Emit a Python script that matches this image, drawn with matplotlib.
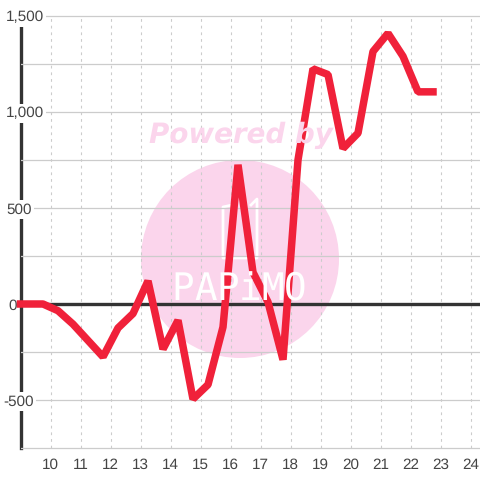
import matplotlib
matplotlib.use('Agg')
import matplotlib.pyplot as plt
from matplotlib.lines import Line2D
from matplotlib.patches import Circle
from matplotlib.transforms import ScaledTranslation

plt.rcParams['font.family'] = ['Liberation Sans', 'DejaVu Sans']
plt.rcParams['text.hinting'] = 'none'

# Values
hours = [9.0, 9.25, 9.75, 10.25, 10.75, 11.25, 11.75, 12.25, 12.75, 13.25, 13.75, 14.25, 14.75,
         15.25, 15.75, 16.25, 16.75, 17.25, 17.75, 18.25, 18.75, 19.25, 19.75, 20.25, 20.75,
         21.25, 21.75, 22.25, 22.75]
values = [0, 0, 0, -35, -105, -190, -275, -125, -50, 120, -235, -85, -495,
          -420, -120, 725, 165, 10, -290, 750, 1225, 1195, 810, 890, 1315,
          1410, 1290, 1105, 1105]
x_ticks = list(range(10, 25))
y_major = [-500, 0, 500, 1000, 1500]
y_labels = ['-500', '0', '500', '1,000', '1,500']
y_minor = [-750, -250, 250, 750, 1250]
label_shift_px = [-3, 2, 0, 0, 0]

RED = '#f0213a'
DARK = '#333333'
GRID = '#cccccc'
PINK = '#fbd5ec'


def px(x, y):
    return x / 480, 1 - y / 480


fig = plt.figure(figsize=(4.8, 4.8), dpi=100, facecolor='white')

# Watermark sits behind the chart
fig.add_artist(Circle(px(240, 259), 99 / 480, transform=fig.transFigure, fc=PINK, ec='none', zorder=0))
fig.text(*px(241, 135), 'Powered by', family='DejaVu Sans', weight='bold', style='italic', size=20,
         color=PINK, ha='center', va='center', zorder=0)
for i, letter in enumerate('PAPiMO'):
    fig.text(*px(183 + i * 22.5, 289), letter, family='DejaVu Sans Mono', size=27, color='white',
             ha='center', va='center', zorder=0)
logo_x, logo_y = zip(px(232, 205), px(223, 207), px(223, 258), px(257, 258), px(257, 199), px(251, 205))
fig.add_artist(Line2D(logo_x, logo_y, transform=fig.transFigure, color='white', lw=2, zorder=0))

# Axes box runs a little past the outer gridlines so they are not clipped
ax = fig.add_axes([20.5 / 480, 30 / 480, 459.5 / 480, 436 / 480])
ax.patch.set_visible(False)
ax.set_xlim(9, 9 + 459.5 / 30)
ax.set_ylim(-750 - 2 / 0.192, 1500 + 2 / 0.192)

for side in ['top', 'right', 'bottom']:
    ax.spines[side].set_visible(False)
ax.spines['left'].set_color(DARK)
ax.spines['left'].set_linewidth(2.4)
ax.spines['left'].set_bounds(-750, 1500)
ax.spines['left'].set_zorder(0.4)

ax.set_axisbelow(True)
ax.set_yticks(y_major, y_labels)
ax.set_yticks(y_minor, minor=True)
ax.set_xticks(x_ticks, [str(t) for t in x_ticks])
ax.tick_params(axis='both', which='both', length=0)
ax.tick_params(axis='x', pad=6, labelsize=11, labelcolor='#444444')
ax.tick_params(axis='y', pad=10.5, labelsize=11, labelcolor='#444444')
ax.grid(True, axis='y', which='both', color=GRID, lw=0.9)
ax.vlines(x_ticks, -750, 1500, color=GRID, lw=0.8, linestyles=(0, (2.5, 3.5)), zorder=1)

for label, shift in zip(ax.get_yticklabels(), label_shift_px):
    label.set_ha('left')
    label.set_transform(label.get_transform() + ScaledTranslation(shift / 100, 0, fig.dpi_scale_trans))
    label.set_bbox(dict(fc='white', ec='none', pad=1.5))

ax.axhline(0, color=DARK, lw=2.4, zorder=2)
ax.plot(hours, values, color=RED, lw=5.4, solid_joinstyle='bevel', solid_capstyle='projecting',
        clip_on=False, zorder=3)

fig.savefig('out.png', dpi=100)
